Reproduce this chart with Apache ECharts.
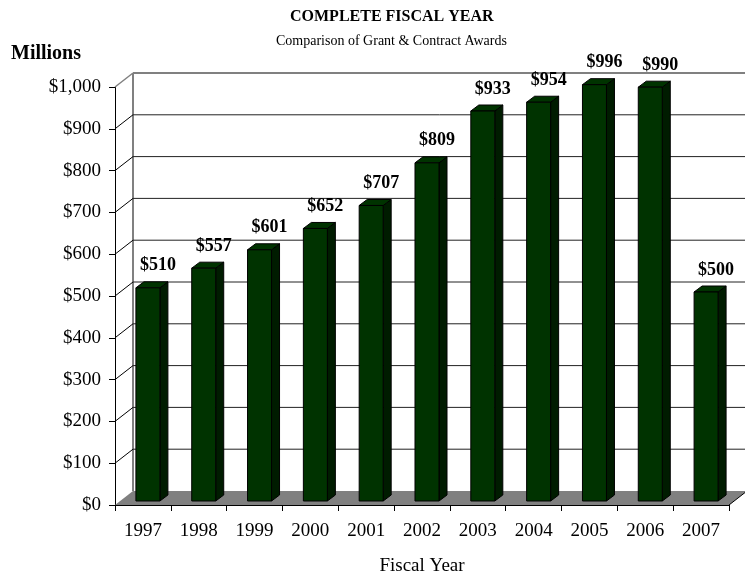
<!DOCTYPE html>
<html>
<head>
<meta charset="utf-8">
<script src="https://cdn.jsdelivr.net/npm/echarts@6/dist/echarts.min.js"></script>
<style>html,body{margin:0;padding:0;background:#fff;}#chart{width:745px;height:576px;}</style>
</head>
<body>
<div id="chart"></div>
<script>
const years = ['1997','1998','1999','2000','2001','2002','2003','2004','2005','2006','2007'];
const awards = [510, 557, 601, 652, 707, 809, 933, 954, 996, 990, 500];
const yTicks = [0, 100, 200, 300, 400, 500, 600, 700, 800, 900, 1000];
const yMin = 0, yMax = 1000, yStep = 100;

const FONT = '"Liberation Serif", "Times New Roman", serif';
const DX = 18, DY = -14;      // wall depth
const BX = 5, BY = -4;        // bar offset into depth
const BDX = 8, BDY = -6;      // bar depth

function fmtMoney(v) {
  return '$' + v.toString().replace(/\B(?=(\d{3})+(?!\d))/g, ',');
}

const chart = echarts.init(document.getElementById('chart'), null, {renderer: 'canvas', width: 745, height: 576});

function renderWalls(params, api) {
  const cs = params.coordSys;
  const v = api.value(1);
  const y = api.coord([0, v])[1];
  const x0 = cs.x, x1 = cs.x + cs.width;
  const children = [];
  if (v === yMin) {
    children.push({type: 'polygon', shape: {points: [[x0, y], [x1, y], [x1 + DX, y + DY], [x0 + DX, y + DY]]},
      style: {fill: '#808080', stroke: null}});
    children.push({type: 'line', shape: {x1: x1, y1: y, x2: x1 + DX, y2: y + DY}, style: {stroke: '#000', lineWidth: 1}});
    const yTop = api.coord([0, yMax])[1];
    children.push({type: 'line', shape: {x1: x0 + DX, y1: y + DY, x2: x0 + DX, y2: yTop + DY}, style: {stroke: '#808080', lineWidth: 2}});
  } else if (v === yMax) {
    children.push({type: 'line', shape: {x1: x0 + DX, y1: y + DY, x2: x1 + DX + 20, y2: y + DY}, style: {stroke: '#808080', lineWidth: 2}});
    children.push({type: 'line', shape: {x1: x0, y1: y, x2: x0 + DX, y2: y + DY}, style: {stroke: '#808080', lineWidth: 1.5}});
  } else {
    children.push({type: 'line', shape: {x1: x0 + DX, y1: y + DY, x2: x1 + DX + 20, y2: y + DY}, style: {stroke: '#222', lineWidth: 1}});
    children.push({type: 'line', shape: {x1: x0, y1: y, x2: x0 + DX, y2: y + DY}, style: {stroke: '#000', lineWidth: 1}});
  }
  return {type: 'group', children: children};
}

function renderBars(params, api) {
  const i = api.value(0), v = api.value(1);
  const base = api.coord([i, 0]);
  const top = api.coord([i, v]);
  const bw = api.size([1, 0])[0];
  const hw = bw * 0.215;
  const left = base[0] + BX - hw, right = base[0] + BX + hw;
  const yb = base[1] + BY, yt = top[1] + BY;
  const stroke = {stroke: '#000', lineWidth: 1};
  return {type: 'group', children: [
    {type: 'polygon', shape: {points: [[right, yt], [right + BDX, yt + BDY], [right + BDX, yb + BDY], [right, yb]]},
      style: Object.assign({fill: '#001c00'}, stroke)},
    {type: 'polygon', shape: {points: [[left, yt], [left + BDX, yt + BDY], [right + BDX, yt + BDY], [right, yt]]},
      style: Object.assign({fill: '#003300'}, stroke)},
    {type: 'rect', shape: {x: left, y: yt, width: right - left, height: yb - yt},
      style: Object.assign({fill: '#003300'}, stroke)},
    {type: 'text', style: {text: fmtMoney(v), x: base[0] + 15, y: yt + BDY - 7,
      align: 'center', verticalAlign: 'bottom', fill: '#000', font: 'bold 18px ' + FONT}}
  ]};
}

const option = {
  backgroundColor: '#fff',
  animation: false,
  title: [
    {text: 'COMPLETE FISCAL YEAR', left: 290, top: 9, padding: 0, textStyle: {fontFamily: FONT, fontWeight: 'bold', fontSize: 16, color: '#000'}},
    {text: 'Comparison of Grant & Contract Awards', left: 276, top: 34, padding: 0, textStyle: {fontFamily: FONT, fontWeight: 'normal', fontSize: 14, color: '#000'}},
    {text: 'Millions', left: 11, top: 44, padding: 0, textStyle: {fontFamily: FONT, fontWeight: 'bold', fontSize: 20, color: '#000'}}
  ],
  grid: {left: 115, right: 16, top: 87, bottom: 71, containLabel: false, outerBoundsMode: 'none'},
  xAxis: {
    type: 'category', data: years, boundaryGap: true,
    axisLine: {show: true, lineStyle: {color: '#000', width: 1}},
    axisTick: {show: true, alignWithLabel: false, length: 6, lineStyle: {color: '#000'}},
    axisLabel: {fontFamily: FONT, fontSize: 19, color: '#000', margin: 17},
    name: 'Fiscal Year', nameLocation: 'middle', nameGap: 52,
    nameTextStyle: {fontFamily: FONT, fontSize: 19, color: '#000'},
    splitLine: {show: false}
  },
  yAxis: {
    type: 'value', min: yMin, max: yMax, interval: yStep,
    axisLine: {show: true, lineStyle: {color: '#000', width: 1}},
    axisTick: {show: true, length: 6, lineStyle: {color: '#000'}},
    axisLabel: {fontFamily: FONT, fontSize: 19, color: '#000', margin: 14, formatter: fmtMoney},
    splitLine: {show: false}
  },
  series: [
    {type: 'custom', name: 'walls', z: 1, silent: true, clip: false,
      data: yTicks.map(v => [0, v]), encode: {x: 0, y: 1}, renderItem: renderWalls},
    {type: 'custom', name: 'awards', z: 3, silent: true, clip: false,
      data: awards.map((v, i) => [i, v]), encode: {x: 0, y: 1}, renderItem: renderBars}
  ]
};
chart.setOption(option);
</script>
</body>
</html>
